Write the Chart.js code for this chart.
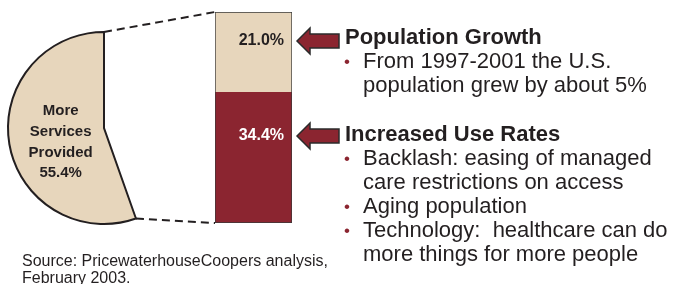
<!DOCTYPE html>
<html><head><meta charset="utf-8">
<script src="https://cdn.jsdelivr.net/npm/chart.js@4.4.0/dist/chart.umd.min.js"></script>
<style>
html,body{margin:0;padding:0;background:#fff;width:691px;height:284px;overflow:hidden;font-family:"Liberation Sans",Arial,sans-serif;}
#pieBox{position:absolute;left:4px;top:28px;width:200px;height:200px;}
#barBox{position:absolute;left:200px;top:0;width:110px;height:240px;}
#overlay{position:absolute;left:0;top:0;pointer-events:none;}
#arrows{position:absolute;left:0;top:0;}
.t{position:absolute;white-space:nowrap;color:#231F20;font-size:22px;line-height:24px;}
.h{font-weight:bold;left:345px;}
.b{left:363px;}
.dot{position:absolute;left:344px;color:#8B2530;font-size:17px;line-height:24px;}
.src{position:absolute;left:22px;white-space:nowrap;color:#231F20;font-size:16px;line-height:17px;}
</style>
</head><body>
<div id="pieBox"><canvas id="pie"></canvas></div>
<div id="barBox"><canvas id="bar"></canvas></div>
<canvas id="overlay" width="691" height="284"></canvas>
<svg id="arrows" width="691" height="284">
  <polygon points="297,41 310,28 310,34 339,34 339,48 310,48 310,54" fill="#8B2530" stroke="#2b2b2b" stroke-width="1.5" stroke-linejoin="miter"/>
  <polygon points="297,136 310,123 310,129 339,129 339,143 310,143 310,149" fill="#8B2530" stroke="#2b2b2b" stroke-width="1.5" stroke-linejoin="miter"/>
</svg>

<div class="t h" style="top:25px">Population Growth</div>
<div class="dot" style="top:49.5px">•</div><div class="t b" style="top:49px">From 1997-2001 the U.S.</div>
<div class="t b" style="top:73px">population grew by about 5%</div>

<div class="t h" style="top:122px">Increased Use Rates</div>
<div class="dot" style="top:146.5px">•</div><div class="t b" style="top:146px">Backlash: easing of managed</div>
<div class="t b" style="top:170px">care restrictions on access</div>
<div class="dot" style="top:194.5px">•</div><div class="t b" style="top:194px">Aging population</div>
<div class="dot" style="top:218.5px">•</div><div class="t b" style="top:218px">Technology:&nbsp; healthcare can do</div>
<div class="t b" style="top:242px">more things for more people</div>

<div class="src" style="top:251.5px">Source: PricewaterhouseCoopers analysis,</div>
<div class="src" style="top:268.5px">February 2003.</div>

<script>
// ---- data ----
const pieLabels = ['Remainder', 'More Services Provided'];
const pieValues = [44.6, 55.4];
const barCategories = ['Services growth'];
const barSeriesNames = ['Increased Use Rates', 'Population Growth'];
const increasedUseRates = [34.4];
const populationGrowth = [21.0];

const TAN = '#E7D6BC';
const RED = '#8B2530';
const DARK = '#231F20';

const pieLabelPlugin = {
  id: 'pieLabel',
  afterDatasetsDraw(chart) {
    const el = chart.getDatasetMeta(0).data[1];
    const p = el.tooltipPosition();
    const ctx = chart.ctx;
    const lines = pieLabels[1].split(' ').concat([pieValues[1].toFixed(1) + '%']);
    ctx.save();
    ctx.fillStyle = DARK;
    ctx.font = 'bold 15px "Liberation Sans", Arial, sans-serif';
    ctx.textAlign = 'center';
    ctx.textBaseline = 'middle';
    const lh = 20.8;
    const cx = p.x + 4, cy = p.y + 6;
    lines.forEach((s, i) => ctx.fillText(s, cx, cy + (i - (lines.length - 1) / 2) * lh));
    ctx.restore();
  }
};

const pieChart = new Chart(document.getElementById('pie'), {
  type: 'pie',
  data: { labels: pieLabels, datasets: [{
    data: pieValues,
    backgroundColor: ['rgba(0,0,0,0)', TAN],
    borderColor: ['rgba(0,0,0,0)', DARK],
    borderWidth: [0, 2],
    borderJoinStyle: 'miter'
  }]},
  options: {
    responsive: true, maintainAspectRatio: false, animation: false,
    radius: 96, rotation: 0,
    layout: { padding: 0 },
    plugins: { legend: { display: false }, tooltip: { enabled: false } }
  },
  plugins: [pieLabelPlugin]
});

const barLabelPlugin = {
  id: 'barLabel',
  afterDatasetsDraw(chart) {
    const ctx = chart.ctx;
    const cfg = [ { color: '#ffffff', dy: 44 }, { color: DARK, dy: 29 } ];
    ctx.save();
    ctx.font = 'bold 16px "Liberation Sans", Arial, sans-serif';
    ctx.textAlign = 'right';
    ctx.textBaseline = 'middle';
    chart.data.datasets.forEach((ds, i) => {
      const el = chart.getDatasetMeta(i).data[0];
      ctx.fillStyle = cfg[i].color;
      ctx.fillText(ds.data[0].toFixed(1) + '%', el.x + el.width / 2 - 8, el.y + cfg[i].dy);
    });
    ctx.restore();
  }
};

const total = increasedUseRates[0] + populationGrowth[0];
const barChart = new Chart(document.getElementById('bar'), {
  type: 'bar',
  data: { labels: barCategories, datasets: [
    { label: barSeriesNames[0], data: increasedUseRates, backgroundColor: RED, borderColor: '#3a3a3a', borderWidth: 1, borderSkipped: 'top' },
    { label: barSeriesNames[1], data: populationGrowth, backgroundColor: TAN, borderColor: '#3a3a3a', borderWidth: 1, borderSkipped: 'bottom' }
  ]},
  options: {
    responsive: true, maintainAspectRatio: false, animation: false,
    barPercentage: 1, categoryPercentage: 1,
    layout: { padding: { left: 15, right: 18, top: 12, bottom: 17 } },
    scales: {
      x: { display: false, stacked: true },
      y: { display: false, stacked: true, min: 0, max: total }
    },
    plugins: { legend: { display: false }, tooltip: { enabled: false } }
  },
  plugins: [barLabelPlugin]
});

// dashed connectors between pie slice and bar
(function () {
  const ov = document.getElementById('overlay').getContext('2d');
  const pr = document.getElementById('pie').getBoundingClientRect();
  const br = document.getElementById('bar').getBoundingClientRect();
  const arc = pieChart.getDatasetMeta(0).data[1];
  const top = barChart.getDatasetMeta(1).data[0];
  const bot = barChart.getDatasetMeta(0).data[0];
  const r = arc.outerRadius;
  const p1 = { x: pr.left + arc.x + r * Math.cos(arc.endAngle), y: pr.top + arc.y + r * Math.sin(arc.endAngle) };
  const p2 = { x: pr.left + arc.x + r * Math.cos(arc.startAngle), y: pr.top + arc.y + r * Math.sin(arc.startAngle) };
  const q1 = { x: br.left + top.x - top.width / 2, y: br.top + top.y };
  const q2 = { x: br.left + bot.x - bot.width / 2, y: br.top + bot.base };
  ov.save();
  ov.strokeStyle = DARK;
  ov.lineWidth = 2;
  ov.setLineDash([8, 5]);
  ov.beginPath(); ov.moveTo(p1.x, p1.y); ov.lineTo(q1.x, q1.y); ov.stroke();
  ov.beginPath(); ov.moveTo(p2.x, p2.y); ov.lineTo(q2.x, q2.y); ov.stroke();
  ov.restore();
})();
</script>
</body></html>
